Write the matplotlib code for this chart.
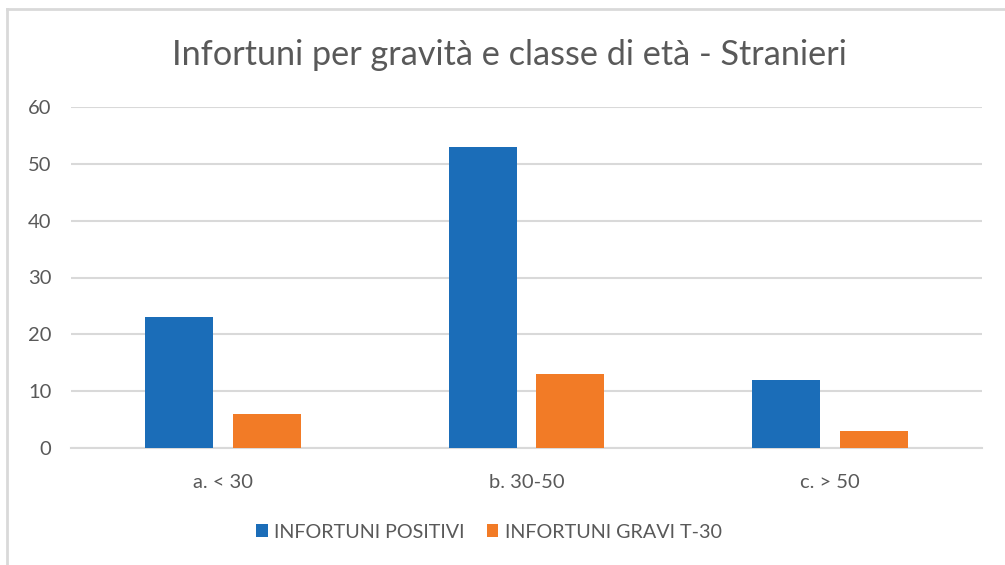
import matplotlib
matplotlib.use("Agg")
import matplotlib.pyplot as plt
from matplotlib.lines import Line2D
import numpy as np

categories = ["a. < 30", "b. 30-50", "c. > 50"]
series_names = ["INFORTUNI POSITIVI", "INFORTUNI GRAVI T-30"]
positivi = [23, 53, 12]
gravi = [6, 13, 3]
yticks = [0, 10, 20, 30, 40, 50, 60]
title = "Infortuni per gravità e classe di età - Stranieri"

plt.rcParams['font.family'] = ['Lato', 'DejaVu Sans']
text_color = "#595959"
blue = "#1B6DB8"
orange = "#F27B26"

fig = plt.figure(figsize=(10.05, 5.65), dpi=100)
ax = fig.add_axes([71/1005, 1-448/565, (982-71)/1005, (448-107)/565])

x = np.arange(len(categories))
w = 0.224
off = 0.144
ax.bar(x - off, positivi, width=w, color=blue, label=series_names[0], zorder=3)
ax.bar(x + off, gravi, width=w, color=orange, label=series_names[1], zorder=3)

ax.set_xlim(-0.5, 2.5)
ax.set_ylim(0, 60)
ax.set_yticks(yticks)
ax.set_xticks(x)
ax.set_xticklabels(categories)
ax.yaxis.grid(True, color="#D9D9D9", linewidth=1.5, zorder=0)
ax.set_axisbelow(True)
for s in ["top", "right", "left"]:
    ax.spines[s].set_visible(False)
ax.spines["bottom"].set_color("#D9D9D9")
ax.spines["bottom"].set_linewidth(1.5)
ax.tick_params(axis="both", length=0, labelsize=14.5, colors=text_color)
ax.tick_params(axis="y", pad=14)
ax.tick_params(axis="x", pad=19)

fig.text(509/1005, 1-55/565, title, ha="center", va="center", fontsize=24.7, color=text_color)

fig.legend(loc="center", bbox_to_anchor=(489/1005, 1-532/565), ncol=2, frameon=False,
           fontsize=14.2, labelcolor=text_color, handlelength=0.6, handleheight=0.6,
           handletextpad=0.35, columnspacing=1.1)

fig.add_artist(Line2D([7/1005, 7/1005], [0, 1-9/565], transform=fig.transFigure, color="#D9D9D9", linewidth=2))
fig.add_artist(Line2D([7/1005, 1], [1-9/565, 1-9/565], transform=fig.transFigure, color="#D9D9D9", linewidth=2))

fig.savefig("out.png", dpi=100)
